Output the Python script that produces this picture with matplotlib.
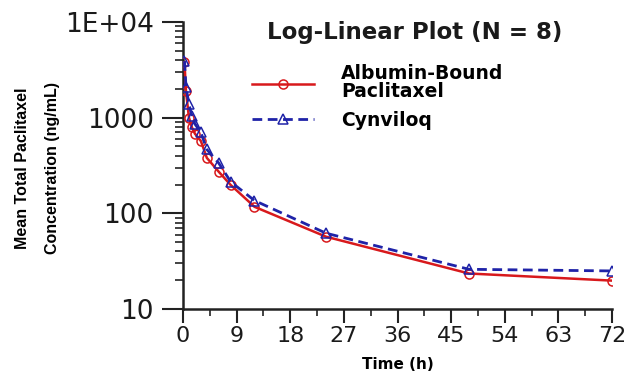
import matplotlib
matplotlib.use("Agg")
import matplotlib.pyplot as plt
from matplotlib.ticker import FixedLocator, LogLocator, NullFormatter, FixedFormatter

# Sampling times (h) and mean concentrations (ng/mL)
time_h = [0.25, 0.5, 1, 1.5, 2, 3, 4, 6, 8, 12, 24, 48, 72]
albumin_bound = [3800, 1880, 1000, 790, 680, 570, 380, 272, 198, 117, 57, 23.5, 19.8]
cynviloq = [3900, 2100, 1380, 1040, 860, 700, 465, 335, 214, 136, 62, 26, 25]

x_ticks = [0, 9, 18, 27, 36, 45, 54, 63, 72]
y_ticks = [10, 100, 1000, 10000]
y_tick_labels = ["10", "100", "1000", "1E+04"]

fig = plt.figure(figsize=(6.31, 3.77), dpi=100)
ax = fig.add_axes([183 / 631, 1 - 309 / 377, (612 - 183) / 631, (309 - 22) / 377])

red = "#d8191c"
blue = "#1f23a8"

ax.plot(time_h, albumin_bound, color=red, lw=1.8, marker="o", ms=6.5,
        mfc="none", mec=red, mew=1.1, label="Albumin-Bound\nPaclitaxel", zorder=3)
ax.plot(time_h, cynviloq, color=blue, lw=2.0, ls=(0, (3.5, 2)), marker="^", ms=6.5,
        mfc="none", mec=blue, mew=1.1, label="Cynviloq", zorder=4)

ax.set_yscale("log")
ax.set_ylim(10, 10000)
ax.set_xlim(0, 72)

ax.yaxis.set_major_locator(FixedLocator(y_ticks))
ax.yaxis.set_major_formatter(FixedFormatter(y_tick_labels))
ax.yaxis.set_minor_locator(LogLocator(base=10, subs=range(2, 10)))
ax.yaxis.set_minor_formatter(NullFormatter())

ax.xaxis.set_major_locator(FixedLocator(x_ticks))
ax.xaxis.set_minor_locator(FixedLocator([x + 4.5 for x in x_ticks[:-1]]))

for s in ["top", "right"]:
    ax.spines[s].set_visible(False)
for s in ["left", "bottom"]:
    ax.spines[s].set_linewidth(1.8)
    ax.spines[s].set_color("#222222")

ax.tick_params(axis="y", which="major", length=15, width=1.5, labelsize=19, pad=6, colors="#222222")
ax.tick_params(axis="y", which="minor", length=6, width=1.2, colors="#222222")
ax.tick_params(axis="x", which="major", length=10, width=1.5, labelsize=16, pad=2, colors="#222222")
ax.tick_params(axis="x", which="minor", length=5, width=1.2, colors="#222222")
for lbl in ax.get_xticklabels() + ax.get_yticklabels():
    lbl.set_color("#1a1a1a")

ax.set_xlabel("Time (h)", fontsize=11, fontweight="bold", labelpad=8)
fig.text(0.0595, 1 - 168 / 377, "Mean Total Paclitaxel\nConcentration (ng/mL)", rotation=90,
         ha="center", va="center", fontsize=11.5, fontweight="bold",
         family="Liberation Sans", linespacing=2.3)

fig.text(415 / 631, 1 - 33 / 377, "Log-Linear Plot (N = 8)", ha="center", va="center",
         fontsize=16.5, fontweight="bold", color="#1a1a1a")

leg = ax.legend(loc="upper left", bbox_to_anchor=((252 - 183) / 429, (309 - 64) / 287),
                frameon=False, prop={"weight": "bold", "size": 13.5},
                handlelength=3.3, handletextpad=1.45, labelspacing=0.5,
                borderpad=0, borderaxespad=0)
for t in leg.get_texts():
    t.set_linespacing(0.95)

fig.savefig("out.png", dpi=100)
